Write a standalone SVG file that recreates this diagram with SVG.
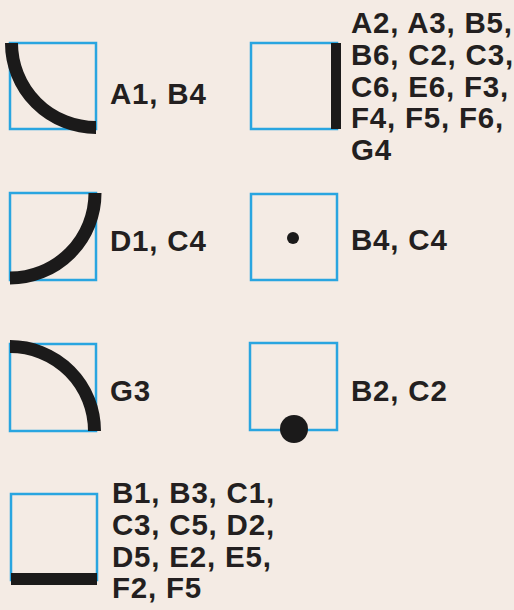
<svg xmlns="http://www.w3.org/2000/svg" width="514" height="610" viewBox="0 0 514 610">
<style>
.bg{fill:#f4ebe4}
.box{fill:none;stroke:#29a5e0;stroke-width:2.5}
.arc{fill:none;stroke:#1b1a1a;stroke-width:13;stroke-linecap:butt}
.ink{fill:#1b1a1a}
.lbl{font-family:"Liberation Sans",Arial,sans-serif;font-weight:bold;font-size:29.5px;letter-spacing:0.8px;fill:#231f20}
</style>
<rect class="bg" x="0" y="0" width="514" height="610"/>
<g id="connectors"/>
<g id="n-a1b4">
<rect class="box" x="10" y="43" width="86" height="86"/>
<path class="arc" d="M 11.5,43 A 84.5 84.5 0 0 0 96 127.5"/>
<text class="lbl" x="110" y="104">A1, B4</text>
</g>
<g id="n-a2">
<rect class="box" x="251" y="43" width="86" height="86"/>
<rect class="ink" x="331" y="43" width="10" height="86"/>
<text class="lbl" x="351" y="33">A2, A3, B5,</text>
<text class="lbl" x="351" y="65">B6, C2, C3,</text>
<text class="lbl" x="351" y="97">C6, E6, F3,</text>
<text class="lbl" x="351" y="128">F4, F5, F6,</text>
<text class="lbl" x="351" y="160">G4</text>
</g>
<g id="n-d1c4">
<rect class="box" x="10" y="193" width="86" height="87"/>
<path class="arc" d="M 95,193 A 85 85 0 0 1 10 278"/>
<text class="lbl" x="110" y="251">D1, C4</text>
</g>
<g id="n-b4c4">
<rect class="box" x="251" y="194" width="86" height="86"/>
<circle class="ink" cx="293" cy="238" r="6"/>
<text class="lbl" x="351" y="250">B4, C4</text>
</g>
<g id="n-g3">
<rect class="box" x="10" y="344" width="86" height="87"/>
<path class="arc" d="M 10,346.5 A 84.5 84.5 0 0 1 94.5 431"/>
<text class="lbl" x="110" y="401">G3</text>
</g>
<g id="n-b2c2">
<rect class="box" x="250" y="343" width="87" height="87"/>
<circle class="ink" cx="294" cy="429" r="14"/>
<text class="lbl" x="351" y="401">B2, C2</text>
</g>
<g id="n-b1">
<rect class="box" x="11" y="494" width="86" height="86"/>
<rect class="ink" x="11" y="573" width="86" height="12"/>
<text class="lbl" x="112" y="503">B1, B3, C1,</text>
<text class="lbl" x="112" y="535">C3, C5, D2,</text>
<text class="lbl" x="112" y="567">D5, E2, E5,</text>
<text class="lbl" x="112" y="598">F2, F5</text>
</g>
</svg>
